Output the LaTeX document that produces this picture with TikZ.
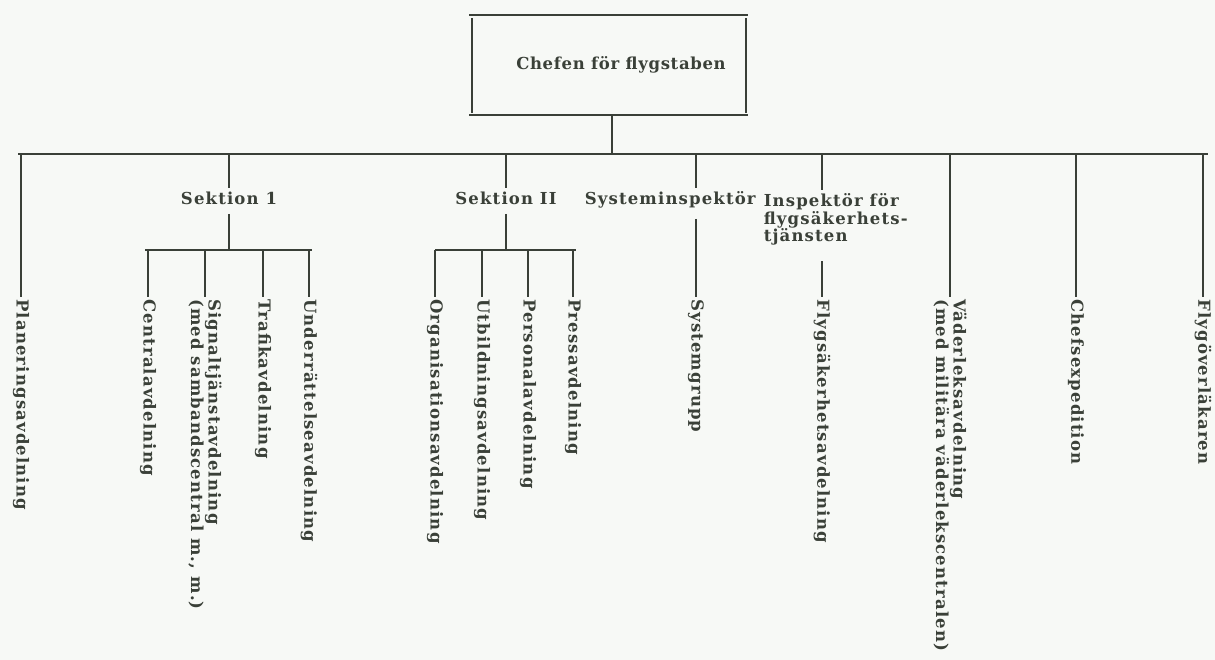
\documentclass[tikz,border=0pt]{standalone}
\usepackage{fontspec}
\usetikzlibrary{calc}
\newfontfamily\lab{DejaVu Serif}[LetterSpace=7]
\newfontfamily\labbox{DejaVu Serif}[LetterSpace=4]
\definecolor{ink}{RGB}{58,64,56}
\definecolor{paper}{RGB}{247,249,246}
\begin{document}
\begin{tikzpicture}[x=1pt,y=-1pt,
  line width=1.6pt, draw=ink, text=ink,
  font=\lab\bfseries\fontsize{16.5}{17.5}\selectfont,
  hlab/.style={inner xsep=0pt, inner ysep=4pt, text height=12pt, text depth=4pt, anchor=base},
  vlab/.style={rotate=-90, anchor=west, inner sep=1.5pt, align=left},
  chefbox/.style={minimum width=272pt, minimum height=98pt, inner sep=0pt,
    font=\labbox\bfseries\fontsize{16.5}{17.5}\selectfont}]
\fill[paper] (0,0) rectangle (1215,660);
\useasboundingbox (0,0) rectangle (1215,660);

% top box
\node[chefbox] (chef) at (609,65) {\hspace*{24pt}Chefen för flygstaben};
\draw ([xshift=-3pt]chef.north west) -- ([xshift=2pt]chef.north east);
\draw ([xshift=-3pt]chef.south west) -- ([xshift=2pt]chef.south east);
\draw ([yshift=-3pt]chef.north west) -- ([yshift=2pt]chef.south west);
\draw ([yshift=-3pt]chef.north east) -- ([yshift=2pt]chef.south east);
\coordinate (busL) at (18,154);
\coordinate (busR) at (1208,154);
\draw (busL) -- (busR);
\draw ([xshift=3pt]chef.south) -- ([xshift=3pt]chef.south |- busL);

% Planeringsavdelning
\node[vlab] (plan) at (21,297) {Planeringsavdelning};
\draw (plan.west |- busL) -- (plan.west);

% Sektion 1
\node[hlab] (sek1) at (229,205) {Sektion 1};
\draw (sek1.north |- busL) -- (sek1.north);
\coordinate (sub1) at (229,250);
\draw (sek1.south) -- (sub1);
\node[vlab] (cent) at (148,297) {Centralavdelning};
\node[vlab] (sign) at (205,297) {Signaltjänstavdelning\\(med sambandscentral m., m.)};
\node[vlab] (traf) at (263,297) {Trafikavdelning};
\node[vlab] (und) at (309,297) {Underrättelseavdelning};
\draw ([xshift=-3pt]cent.west |- sub1) -- ([xshift=3pt]und.west |- sub1);
\foreach \n in {cent,sign,traf,und} \draw (\n.west |- sub1) -- (\n.west);

% Sektion II
\node[hlab] (sek2) at (506,205) {Sektion II};
\draw (sek2.north |- busL) -- (sek2.north);
\coordinate (sub2) at (506,250);
\draw (sek2.south) -- (sub2);
\node[vlab] (org) at (435,297) {Organisationsavdelning};
\node[vlab] (utb) at (482,297) {Utbildningsavdelning};
\node[vlab] (pers) at (528,297) {Personalavdelning};
\node[vlab] (press) at (573,297) {Pressavdelning};
\draw (org.west |- sub2) -- ([xshift=3pt]press.west |- sub2);
\foreach \n in {org,utb,pers,press} \draw (\n.west |- sub2) -- (\n.west);

% Systeminspektör
\node[hlab, anchor=base west, text depth=9pt] (sysi) at (584,205) {Systeminspektör};
\coordinate (sysx) at (696,154);
\draw (sysx) -- (sysx |- sysi.north);
\node[vlab] (sysg) at (696,297) {Systemgrupp};
\draw (sysx |- sysi.south) -- (sysg.west);

% Inspektör för flygsäkerhetstjänsten
\node[anchor=north west, align=left, inner sep=3pt] (insp) at (760,190) {Inspektör för\\flygsäkerhets-\\tjänsten};
\coordinate (inspx) at (822,154);
\draw (inspx) -- (inspx |- insp.north);
\node[vlab] (flys) at (822,297) {Flygsäkerhetsavdelning};
\draw ($(inspx |- insp.south)+(0,12)$) -- (flys.west);

% Väderleksavdelning
\node[vlab] (vad) at (950,297) {Väderleksavdelning\\(med militära väderlekscentralen)};
\draw (vad.west |- busL) -- (vad.west);

% Chefsexpedition
\node[vlab] (chex) at (1076,297) {Chefsexpedition};
\draw (chex.west |- busL) -- (chex.west);

% Flygöverläkaren
\node[vlab] (flyg) at (1203,297) {Flygöverläkaren};
\draw (flyg.west |- busL) -- (flyg.west);
\end{tikzpicture}
\end{document}
